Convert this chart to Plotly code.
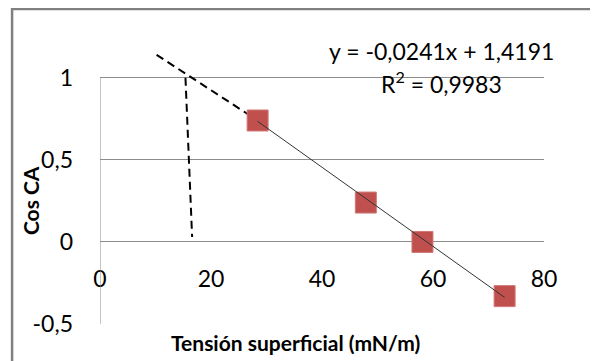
import plotly.graph_objects as go

# Data
tension = [28.4, 47.9, 58.1, 72.9]
cos_ca = [0.74, 0.24, 0.0, -0.33]

slope = -0.0241
intercept = 1.4191
eq_text = "y = -0,0241x + 1,4191"
r2_text = "R<sup>2</sup> = 0,9983"

# hand-drawn dashed construction lines (reference readings)
dash_diag_x = [10.2, 28.4]
dash_diag_y = [1.14, 0.74]
dash_vert_x = [15.4, 16.6]
dash_vert_y = [1.0, 0.03]

x_ticks = [0, 20, 40, 60, 80]
y_ticks = [-0.5, 0, 0.5, 1]
y_tick_labels = ["-0,5", "0", "0,5", "1"]

FONT = "Lato"
GRID = "#8C8C8C"

trend_x = [min(tension), max(tension)]
trend_y = [slope * v + intercept for v in trend_x]

fig = go.Figure()

fig.add_trace(go.Scatter(x=dash_diag_x, y=dash_diag_y, mode="lines",
                         line=dict(color="black", width=2, dash="8px,5px"),
                         hoverinfo="skip", showlegend=False))
fig.add_trace(go.Scatter(x=dash_vert_x, y=dash_vert_y, mode="lines",
                         line=dict(color="black", width=2, dash="8px,5px"),
                         hoverinfo="skip", showlegend=False))
fig.add_trace(go.Scatter(x=tension, y=cos_ca, mode="markers",
                         marker=dict(symbol="square", size=21, color="#C0504D",
                                     line=dict(color="#D07A77", width=1)),
                         showlegend=False))
fig.add_trace(go.Scatter(x=trend_x, y=trend_y, mode="lines",
                         line=dict(color="#333333", width=1),
                         showlegend=False))

y_range = [-0.5, 1.2]
y0_pos = (0 - y_range[0]) / (y_range[1] - y_range[0])

fig.update_layout(
    width=590, height=353,
    margin=dict(l=92, r=54, t=37, b=37, autoexpand=False),
    paper_bgcolor="white", plot_bgcolor="white",
    font=dict(family=FONT, size=23, color="black"),
    xaxis=dict(range=[0, 80], tickvals=x_ticks, ticktext=[str(v) for v in x_ticks],
               showgrid=False, zeroline=False, showline=False, ticks="",
               anchor="free", position=y0_pos, ticklabelstandoff=21, automargin=False,
               tickfont=dict(family=FONT, size=23, color="black")),
    yaxis=dict(range=y_range, tickvals=y_ticks, ticktext=y_tick_labels,
               showgrid=True, gridcolor=GRID, gridwidth=1,
               zeroline=True, zerolinecolor=GRID, zerolinewidth=1,
               showline=False, ticks="", ticklabelstandoff=26, automargin=False,
               tickfont=dict(family=FONT, size=23, color="black")),
    shapes=[
        dict(type="line", xref="x", yref="y", x0=0, x1=0, y0=-0.5, y1=1,
             line=dict(color=GRID, width=1)),
        dict(type="rect", xref="paper", yref="paper",
             x0=-0.198, x1=1.2, y0=-0.25, y1=1.129,
             line=dict(color="#808080", width=2.5)),
    ],
    annotations=[
        dict(text=eq_text, x=61.6, y=1.166, xref="x", yref="y", showarrow=False,
             font=dict(family=FONT, size=23, color="black"), xanchor="center", yanchor="middle"),
        dict(text=r2_text, x=61.6, y=0.974, xref="x", yref="y", showarrow=False,
             font=dict(family=FONT, size=23, color="black"), xanchor="center", yanchor="middle"),
        dict(text="<b>Tensión superficial (mN/m)</b>", x=0.441, y=-0.068,
             xref="paper", yref="paper", showarrow=False,
             font=dict(family=FONT, size=21, color="black"), xanchor="center", yanchor="middle"),
        dict(text="<b>Cos CA</b>", x=-0.1577, y=0.444, xref="paper", yref="paper",
             showarrow=False, textangle=-90,
             font=dict(family=FONT, size=21, color="black"), xanchor="center", yanchor="middle"),
    ],
)

fig.write_html("out.html")
